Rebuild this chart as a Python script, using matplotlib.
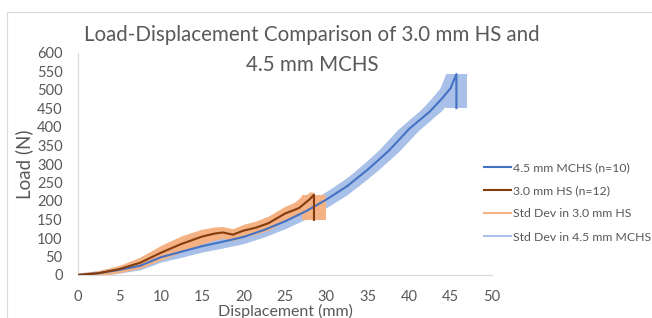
import matplotlib
matplotlib.use("Agg")
import matplotlib.pyplot as plt
from matplotlib.lines import Line2D
from matplotlib.patches import Rectangle
import numpy as np

# mean curve, 4.5 mm MCHS (n=10); last two points are the final drop
mchs_x = np.array([0, 2.5, 5, 7.5, 10, 12.5, 15, 17.5, 20, 22.5, 25, 27.5, 30,
                   32.5, 35, 37.5, 40, 42.5, 44, 45, 45.7, 45.7])
mchs_y = np.array([0, 5, 14, 25, 48, 63, 78, 90, 103, 122, 145, 172, 204,
                   240, 285, 335, 395, 442, 478, 505, 543, 451])
mchs_sd_y = np.array([5, 7, 9, 11, 13, 15, 16, 17, 18, 19, 20, 21, 22,
                      23, 24, 25, 25, 25, 25, 25, 6, 6])
mchs_sd_x = 1.3

# mean curve, 3.0 mm HS (n=12); last two points are the final drop
hs_x = np.array([0, 2.5, 5, 7.5, 10, 12.5, 15, 16.5, 17.5, 18.7, 20, 21.5,
                 23, 25, 26.7, 28, 28.5, 28.5])
hs_y = np.array([0, 5, 16, 33, 60, 84, 104, 112, 115, 109, 120, 128,
                 140, 166, 181, 205, 217, 149])
hs_sd_y = np.array([5, 7, 10, 15, 20, 22, 20, 18, 16, 16, 17, 18,
                    19, 20, 20, 20, 6, 6])
hs_sd_x = 1.4

blue = "#4472C4"
blue_sd = "#A9C0E8"
brown = "#843C0C"
orange_sd = "#F4B183"
grey = "#595959"
font = "Lato"


def band(ax, x, y, sx, sy, color, z):
    # vertical spread on every point, horizontal spread along the rising part
    ax.fill_between(x[:-1], (y - sy)[:-1], (y + sy)[:-1], color=color, lw=0, zorder=z)
    ax.fill_betweenx(y[:-1], (x - sx)[:-1], (x + sx)[:-1], color=color, lw=0, zorder=z)
    # final drop
    ax.fill_betweenx(y[-2:][::-1], (x - sx)[-2:], (x + sx)[-2:], color=color, lw=0, zorder=z)


fig = plt.figure(figsize=(6.52, 3.18), dpi=100)
fig.patches.append(Rectangle((7 / 652, -0.1), 1.2, (318 - 12) / 318 + 0.1,
                             transform=fig.transFigure, fill=False,
                             edgecolor="#D9D9D9", lw=0.8))
ax = fig.add_axes([78 / 652, (318 - 275) / 318, 414 / 652, 222 / 318])

band(ax, mchs_x, mchs_y, mchs_sd_x, mchs_sd_y, blue_sd, 1)
band(ax, hs_x, hs_y, hs_sd_x, hs_sd_y, orange_sd, 2)
ax.plot(mchs_x, mchs_y, color=blue, lw=1.5, zorder=3)
ax.plot(hs_x, hs_y, color=brown, lw=1.5, zorder=4)

ax.set_xlim(0, 50)
ax.set_ylim(0, 600)
ax.set_xticks(np.arange(0, 51, 5))
ax.set_yticks(np.arange(0, 601, 50))
for s in ["top", "right"]:
    ax.spines[s].set_visible(False)
for s in ["left", "bottom"]:
    ax.spines[s].set_color("#D9D9D9")
    ax.spines[s].set_linewidth(0.8)
ax.tick_params(length=0, labelsize=10.5, labelcolor=grey, pad=11)
for lab in ax.get_xticklabels() + ax.get_yticklabels():
    lab.set_fontfamily(font)

ax.set_xlabel("Displacement (mm)", fontsize=11.5, color=grey, family=font, labelpad=0)
ax.set_ylabel("Load (N)", fontsize=13.5, color=grey, family=font, labelpad=3)
fig.text(312 / 652, 1 - 50 / 318,
         "Load-Displacement Comparison of 3.0 mm HS and\n4.5 mm MCHS",
         ha="center", va="center", fontsize=14.8, color=grey, family=font,
         linespacing=1.65)

handles = [Line2D([], [], color=blue, lw=1.5),
           Line2D([], [], color=brown, lw=1.5),
           Line2D([], [], color=orange_sd, lw=1.5),
           Line2D([], [], color=blue_sd, lw=1.5)]
labels = ["4.5 mm MCHS (n=10)", "3.0 mm HS (n=12)",
          "Std Dev in 3.0 mm HS", "Std Dev in 4.5 mm MCHS"]
fig.legend(handles, labels, loc="upper left",
           bbox_to_anchor=(484 / 652, 1 - 162 / 318), frameon=False,
           prop={"family": font, "size": 8.8}, labelcolor=grey,
           handlelength=2.2, handletextpad=0.15, labelspacing=1.0,
           borderpad=0, borderaxespad=0)

fig.savefig("out.png", dpi=100)
